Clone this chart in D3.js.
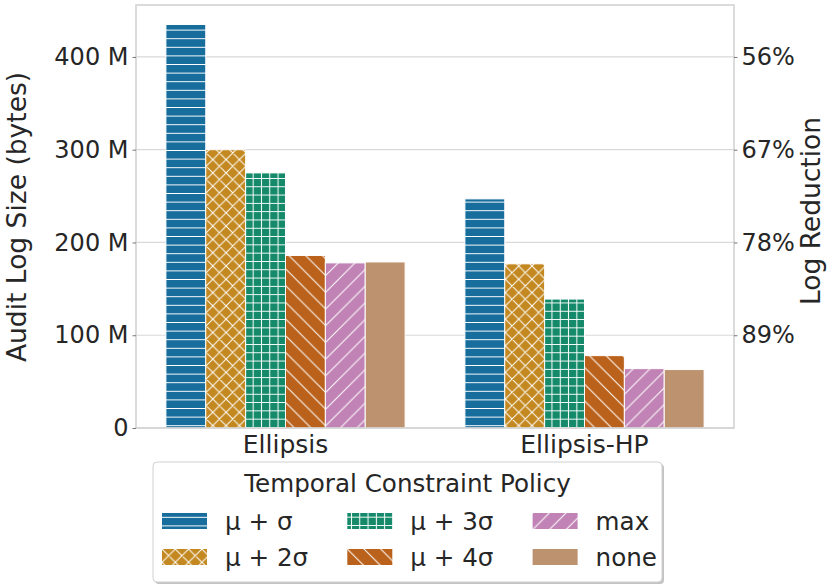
<!DOCTYPE html>
<html>
<head>
<meta charset="utf-8">
<script src="https://cdn.jsdelivr.net/npm/d3@7"></script>
<style>
  body { margin: 0; background: #fff; }
  text { font-family: "DejaVu Sans", sans-serif; fill: #262626; }
</style>
</head>
<body>
<svg width="830" height="587"></svg>
<script>
const categories = ['Ellipsis', 'Ellipsis-HP'];
const policies = ['μ + σ', 'μ + 2σ', 'μ + 3σ', 'μ + 4σ', 'max', 'none'];
const ellipsisSizes = [435e6, 300e6, 275e6, 186e6, 178e6, 179e6];
const ellipsisHpSizes = [247e6, 177e6, 139e6, 78e6, 64e6, 63e6];
const sizeTicks = [0, 100e6, 200e6, 300e6, 400e6];
const sizeTickLabels = ['0', '100 M', '200 M', '300 M', '400 M'];
const reductionTicks = [100e6, 200e6, 300e6, 400e6];
const reductionTickLabels = ['89%', '78%', '67%', '56%'];

const palette = ['#176d9c', '#c38820', '#158a6a', '#ba611b', '#c183b5', '#bd926e'];
const hatches = ['-', 'x', '+', '\\', '/', ''];

const WIDTH = 830,
      HEIGHT = 587,
      MARGINS = { top: 5, right: 96, bottom: 159, left: 136 };

const rows = [];
categories.forEach((c, ci) => {
   const vals = ci === 0 ? ellipsisSizes : ellipsisHpSizes;
   policies.forEach((p, pi) => rows.push({ cat: c, policy: p, pi: pi, value: vals[pi] }));
});

const svg = d3.select('svg');
const defs = svg.append('defs');

// hatch patterns, roughly like matplotlib's
hatches.forEach((h, i) => {
   let P = 8.6;
   if (h === 'x') P = 13.3;
   if (h === '+') P = 8.3;
   if (h === '/' || h === '\\') P = 16.7;
   const pat = defs.append('pattern')
      .attr('id', 'hatch-' + i)
      .attr('patternUnits', 'userSpaceOnUse')
      .attr('width', P)
      .attr('height', P);
   pat.append('rect').attr('width', P).attr('height', P).attr('fill', palette[i]);
   let d = '';
   if (h === '-') d = `M0,${P / 2}H${P}`;
   if (h === '+') d = `M0,${P / 2}H${P}M${P / 2},0V${P}`;
   if (h === '/' || h === 'x') d += `M0,${P}L${P},0M-1,1L1,-1M${P - 1},${P + 1}L${P + 1},${P - 1}`;
   if (h === '\\' || h === 'x') d += `M0,0L${P},${P}M-1,${P - 1}L1,${P + 1}M${P - 1},-1L${P + 1},1`;
   if (d) pat.append('path').attr('d', d).attr('stroke', '#fff').attr('stroke-width', 1).attr('fill', 'none');
});

const x = d3.scaleBand()
   .domain(categories)
   .range([MARGINS.left, WIDTH - MARGINS.right]);

const x1 = d3.scaleBand()
   .domain(policies)
   .range([0, x.bandwidth() * 0.8]);

const y = d3.scaleLinear()
   .domain([0, 456e6])
   .range([HEIGHT - MARGINS.bottom, MARGINS.top]);

// grid
svg.append('g')
   .selectAll('line')
   .data(sizeTicks)
   .join('line')
   .attr('x1', MARGINS.left)
   .attr('x2', WIDTH - MARGINS.right)
   .attr('y1', d => y(d))
   .attr('y2', d => y(d))
   .attr('stroke', '#d9d9d9')
   .attr('stroke-width', 1.2);

// bars
svg.append('g')
   .selectAll('rect')
   .data(rows)
   .join('rect')
   .attr('x', d => x(d.cat) + x.bandwidth() * 0.1 + x1(d.policy))
   .attr('width', x1.bandwidth())
   .attr('y', d => y(d.value))
   .attr('height', d => y(0) - y(d.value))
   .attr('fill', d => `url(#hatch-${d.pi})`)
   .attr('stroke', '#fff')
   .attr('stroke-width', 1);

// frame
svg.append('rect')
   .attr('x', MARGINS.left)
   .attr('y', MARGINS.top)
   .attr('width', WIDTH - MARGINS.right - MARGINS.left)
   .attr('height', HEIGHT - MARGINS.bottom - MARGINS.top)
   .attr('fill', 'none')
   .attr('stroke', '#d0d0d0')
   .attr('stroke-width', 1.5);

// left axis
const yAxis = svg.append('g')
   .attr('transform', `translate(${MARGINS.left},0)`)
   .call(d3.axisLeft(y).tickValues(sizeTicks).tickFormat((d, i) => sizeTickLabels[i]).tickSize(3.5).tickPadding(4));
yAxis.select('.domain').remove();
yAxis.selectAll('.tick line').attr('stroke', '#555').attr('stroke-width', 0.8);
yAxis.selectAll('.tick text').style('font-size', '24px').attr('fill', '#262626').attr('font-family', 'DejaVu Sans');

// right axis
const rAxis = svg.append('g')
   .attr('transform', `translate(${WIDTH - MARGINS.right},0)`)
   .call(d3.axisRight(y).tickValues(reductionTicks).tickFormat((d, i) => reductionTickLabels[i]).tickSize(3.5).tickPadding(4));
rAxis.select('.domain').remove();
rAxis.selectAll('.tick line').attr('stroke', '#555').attr('stroke-width', 0.8);
rAxis.selectAll('.tick text').style('font-size', '24px').attr('fill', '#262626').attr('font-family', 'DejaVu Sans');

// category labels
svg.append('g')
   .selectAll('text')
   .data(categories)
   .join('text')
   .attr('x', d => x(d) + x.bandwidth() / 2)
   .attr('y', 453)
   .attr('text-anchor', 'middle')
   .style('font-size', '25px')
   .text(d => d);

svg.append('text')
   .attr('transform', 'translate(26,217) rotate(-90)')
   .attr('text-anchor', 'middle')
   .style('font-size', '26.5px')
   .text('Audit Log Size (bytes)');

svg.append('text')
   .attr('transform', 'translate(820,211) rotate(-90)')
   .attr('text-anchor', 'middle')
   .style('font-size', '26.5px')
   .text('Log Reduction');

// legend
const lg = svg.append('g');
lg.append('rect')
   .attr('x', 155).attr('y', 464).attr('width', 509).attr('height', 120)
   .attr('rx', 4).attr('fill', '#888').attr('opacity', 0.5);
lg.append('rect')
   .attr('x', 153).attr('y', 462).attr('width', 509).attr('height', 120)
   .attr('rx', 4).attr('fill', '#fff').attr('stroke', '#d0d0d0').attr('stroke-width', 1);
lg.append('text')
   .attr('x', 407.5).attr('y', 492)
   .attr('text-anchor', 'middle')
   .style('font-size', '24.6px')
   .text('Temporal Constraint Policy');

const items = lg.selectAll('g.item')
   .data(policies)
   .join('g')
   .attr('class', 'item')
   .attr('transform', (d, i) => `translate(${162 + Math.floor(i / 2) * 185.3},${i % 2 ? 549 : 513})`);
items.append('rect')
   .attr('width', 45).attr('height', 16)
   .attr('fill', (d, i) => `url(#hatch-${i})`);
items.append('text')
   .attr('x', 63).attr('y', 16.5)
   .style('font-size', '24.6px')
   .text(d => d);
</script>
</body>
</html>
